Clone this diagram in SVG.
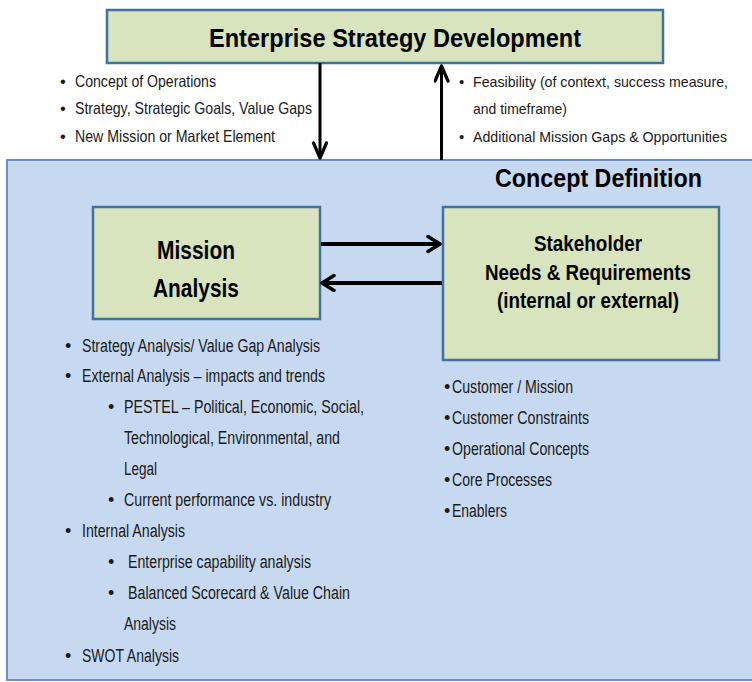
<svg xmlns="http://www.w3.org/2000/svg" width="752" height="682" viewBox="0 0 752 682">
<style>
  .green { fill: #d7e4bd; stroke: #41719c; stroke-width: 2.5; }
  .blue { fill: #c6d9f1; stroke: #6f8fbf; stroke-width: 2; }
  .title { font-family: "Liberation Sans Narrow", "Liberation Sans", Arial, sans-serif; font-weight: bold; fill: #000; }
  .note { font-family: "Liberation Sans Narrow", "Liberation Sans", Arial, sans-serif; font-size: 16.5px; fill: #1a1a1a; }
  .noteR { font-family: "Liberation Sans Narrow", "Liberation Sans", Arial, sans-serif; font-size: 15px; fill: #1a1a1a; }
  .note2 { font-family: "Liberation Sans Narrow", "Liberation Sans", Arial, sans-serif; font-size: 18px; fill: #1a1a1a; }
  .v { stroke: #000; stroke-width: 3; fill: none; }
  .h { stroke: #000; stroke-width: 4; fill: none; }
</style>
<defs>
  <marker id="chev" markerUnits="userSpaceOnUse" markerWidth="24" markerHeight="24" refX="14" refY="9" orient="auto">
    <path d="M2,1.5 L14,9 L2,16.5" fill="none" stroke="#000" stroke-width="3.5" stroke-linejoin="round" stroke-linecap="round"/>
  </marker>
  <marker id="chevV" markerUnits="userSpaceOnUse" markerWidth="24" markerHeight="24" refX="17" refY="8" orient="auto">
    <path d="M2,1.5 L17,8 L2,14.5" fill="none" stroke="#000" stroke-width="3.2" stroke-linejoin="round" stroke-linecap="round"/>
  </marker>
</defs>

<g id="node-concept">
  <rect class="blue" x="7" y="160" width="760" height="520"/>
  <text class="title" x="495" y="187" font-size="25" textLength="207" lengthAdjust="spacingAndGlyphs">Concept Definition</text>
</g>

<g id="node-strategy">
  <rect class="green" x="107" y="10" width="556" height="53"/>
  <text class="title" x="209" y="47" font-size="26" textLength="372" lengthAdjust="spacingAndGlyphs">Enterprise Strategy Development</text>
</g>

<g id="node-mission">
  <rect class="green" x="93" y="207" width="227" height="112"/>
  <text class="title" x="157" y="259" font-size="25" textLength="78" lengthAdjust="spacingAndGlyphs">Mission</text>
  <text class="title" x="153" y="297" font-size="25" textLength="86" lengthAdjust="spacingAndGlyphs">Analysis</text>
</g>

<g id="node-stakeholder">
  <rect class="green" x="443" y="207" width="276" height="153"/>
  <text class="title" x="534" y="251" font-size="21.5" textLength="108" lengthAdjust="spacingAndGlyphs">Stakeholder</text>
  <text class="title" x="485" y="280" font-size="21.5" textLength="206" lengthAdjust="spacingAndGlyphs">Needs &amp; Requirements</text>
  <text class="title" x="497" y="308" font-size="21.5" textLength="182" lengthAdjust="spacingAndGlyphs">(internal or external)</text>
</g>

<g id="connectors">
  <line class="v" x1="320" y1="63" x2="320" y2="158" marker-end="url(#chevV)"/>
  <line class="v" x1="441.5" y1="160" x2="441.5" y2="66" marker-end="url(#chevV)"/>
  <line class="h" x1="321" y1="244" x2="440" y2="244" marker-end="url(#chev)"/>
  <line class="h" x1="442" y1="283" x2="322" y2="283" marker-end="url(#chev)"/>
</g>

<g id="notes-down">
  <text class="note" x="60" y="87">•</text>
  <text class="note" x="75" y="87" textLength="141" lengthAdjust="spacingAndGlyphs">Concept of Operations</text>
  <text class="note" x="60" y="114">•</text>
  <text class="note" x="75" y="114" textLength="237" lengthAdjust="spacingAndGlyphs">Strategy, Strategic Goals, Value Gaps</text>
  <text class="note" x="60" y="142">•</text>
  <text class="note" x="75" y="142" textLength="200" lengthAdjust="spacingAndGlyphs">New Mission or Market Element</text>
</g>

<g id="notes-up">
  <text class="noteR" x="459" y="87">•</text>
  <text class="noteR" x="473" y="87" textLength="255" lengthAdjust="spacingAndGlyphs">Feasibility (of context, success measure,</text>
  <text class="noteR" x="473" y="114" textLength="94" lengthAdjust="spacingAndGlyphs">and timeframe)</text>
  <text class="noteR" x="459" y="142">•</text>
  <text class="noteR" x="473" y="142" textLength="254" lengthAdjust="spacingAndGlyphs">Additional Mission Gaps &amp; Opportunities</text>
</g>

<g id="mission-notes">
  <text class="note2" x="65" y="352">•</text>
  <text class="note2" x="82" y="352" textLength="238" lengthAdjust="spacingAndGlyphs">Strategy Analysis/ Value Gap Analysis</text>
  <text class="note2" x="65" y="382">•</text>
  <text class="note2" x="82" y="382" textLength="243" lengthAdjust="spacingAndGlyphs">External Analysis – impacts and trends</text>
  <text class="note2" x="108" y="413">•</text>
  <text class="note2" x="124" y="413" textLength="240" lengthAdjust="spacingAndGlyphs">PESTEL – Political, Economic, Social,</text>
  <text class="note2" x="124" y="444" textLength="216" lengthAdjust="spacingAndGlyphs">Technological, Environmental, and</text>
  <text class="note2" x="124" y="475" textLength="33" lengthAdjust="spacingAndGlyphs">Legal</text>
  <text class="note2" x="108" y="506">•</text>
  <text class="note2" x="124" y="506" textLength="207" lengthAdjust="spacingAndGlyphs">Current performance vs. industry</text>
  <text class="note2" x="65" y="537">•</text>
  <text class="note2" x="82" y="537" textLength="103" lengthAdjust="spacingAndGlyphs">Internal Analysis</text>
  <text class="note2" x="108" y="568">•</text>
  <text class="note2" x="128" y="568" textLength="183" lengthAdjust="spacingAndGlyphs">Enterprise capability analysis</text>
  <text class="note2" x="108" y="599">•</text>
  <text class="note2" x="128" y="599" textLength="222" lengthAdjust="spacingAndGlyphs">Balanced Scorecard &amp; Value Chain</text>
  <text class="note2" x="124" y="630" textLength="52" lengthAdjust="spacingAndGlyphs">Analysis</text>
  <text class="note2" x="65" y="662">•</text>
  <text class="note2" x="82" y="662" textLength="97" lengthAdjust="spacingAndGlyphs">SWOT Analysis</text>
</g>

<g id="stakeholder-notes">
  <text class="note2" x="444" y="393">•</text>
  <text class="note2" x="452" y="393" textLength="121" lengthAdjust="spacingAndGlyphs">Customer / Mission</text>
  <text class="note2" x="444" y="424">•</text>
  <text class="note2" x="452" y="424" textLength="137" lengthAdjust="spacingAndGlyphs">Customer Constraints</text>
  <text class="note2" x="444" y="455">•</text>
  <text class="note2" x="452" y="455" textLength="137" lengthAdjust="spacingAndGlyphs">Operational Concepts</text>
  <text class="note2" x="444" y="486">•</text>
  <text class="note2" x="452" y="486" textLength="100" lengthAdjust="spacingAndGlyphs">Core Processes</text>
  <text class="note2" x="444" y="517">•</text>
  <text class="note2" x="452" y="517" textLength="55" lengthAdjust="spacingAndGlyphs">Enablers</text>
</g>
</svg>
